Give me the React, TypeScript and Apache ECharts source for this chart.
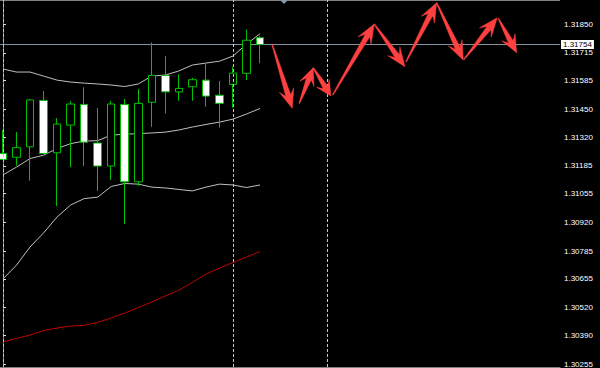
import React, { useEffect, useRef } from "react";
import * as echarts from "echarts";

// Price axis tick labels (right side)
const tickLabels = [
  "1.31850", "1.31715", "1.31585", "1.31450", "1.31320", "1.31185", "1.31055",
  "1.30920", "1.30785", "1.30655", "1.30520", "1.30390", "1.30255",
];

// Candles (bar index 0..19)
const candleOpen = [
  1.31243, 1.31225, 1.31274, 1.31492, 1.31246, 1.31376, 1.31473, 1.31292, 1.31184, 1.31473,
  1.31110, 1.31483, 1.31609, 1.31532, 1.31556, 1.31587, 1.31516, 1.31567, 1.31619, 1.31786,
];
const candleClose = [
  1.31215, 1.31270, 1.31494, 1.31243, 1.31381, 1.31475, 1.31296, 1.31184, 1.31475, 1.31110,
  1.31478, 1.31609, 1.31532, 1.31548, 1.31589, 1.31512, 1.31478, 1.31620, 1.31774, 1.31754,
];
const candleLow = [
  1.31212, 1.31186, 1.31115, 1.31242, 1.30996, 1.31179, 1.31184, 1.31067, 1.31118, 1.30912,
  1.31091, 1.31368, 1.31431, 1.31490, 1.31490, 1.31462, 1.31364, 1.31457, 1.31587, 1.31666,
];
const candleHigh = [
  1.31353, 1.31343, 1.31498, 1.31536, 1.31409, 1.31490, 1.31554, 1.31456, 1.31490, 1.31498,
  1.31545, 1.31764, 1.31700, 1.31614, 1.31598, 1.31668, 1.31583, 1.31650, 1.31825, 1.31795,
];

// Bollinger bands
const bbUpper = [
  1.31639, 1.31625, 1.31625, 1.31606, 1.31587, 1.31578, 1.31573, 1.31569, 1.31564, 1.31557,
  1.31569, 1.31606, 1.31611, 1.31630, 1.31658, 1.31667, 1.31676, 1.31700, 1.31756, 1.31805,
];
const bbMiddle = [
  1.31142, 1.31179, 1.31219, 1.31235, 1.31266, 1.31289, 1.31301, 1.31303, 1.31329, 1.31333,
  1.31336, 1.31339, 1.31343, 1.31353, 1.31367, 1.31379, 1.31390, 1.31404, 1.31428, 1.31454,
];
const bbLower = [
  1.30654, 1.30719, 1.30804, 1.30870, 1.30945, 1.31001, 1.31031, 1.31038, 1.31088, 1.31102,
  1.31099, 1.31085, 1.31081, 1.31074, 1.31067, 1.31085, 1.31099, 1.31095, 1.31083, 1.31095,
];

// Moving average (red)
const maRed = [
  1.30358, 1.30375, 1.30391, 1.30412, 1.30424, 1.30433, 1.30436, 1.30450, 1.30471, 1.30494,
  1.30520, 1.30546, 1.30574, 1.30602, 1.30637, 1.30677, 1.30705, 1.30731, 1.30757, 1.30783,
];

const currentPrice = 1.31754;

// Period separators (bar index)
const separators = [0, 17, 24];

// Drawn arrows: [fromIndex, fromPrice, toIndex, toPrice]
const arrows = [
  [19.9, 1.31754, 21.38, 1.31455],
  [21.9, 1.31478, 22.93, 1.31645],
  [22.93, 1.31645, 24.24, 1.31512],
  [24.37, 1.31517, 27.44, 1.3185],
  [27.44, 1.3185, 29.71, 1.3165],
  [29.79, 1.31673, 32.05, 1.3195],
  [32.05, 1.3195, 34.02, 1.31681],
  [34.07, 1.31684, 36.53, 1.3188],
  [36.61, 1.31877, 37.97, 1.31715],
];

// Visible window
const xMin = -0.22;
const xMax = 41.17;
const yMin = 1.30241;
const yMax = 1.31963;

export default function App() {
  const ref = useRef<HTMLDivElement>(null);

  useEffect(() => {
    if (!ref.current) return;
    const chart = echarts.init(ref.current, null, { renderer: "svg" });
    const tickValues = tickLabels.map(Number);
    const green = "#00c000";
    const bandColor = "#c0c0c0";

    const candleData = candleOpen.map((o, i) => [i, o, candleClose[i], candleLow[i], candleHigh[i]]);
    const toLine = (arr: number[]) => arr.map((v, i) => [i, v]);

    const renderArrow = (params: any, api: any) => {
      const p1 = api.coord([api.value(0), api.value(1)]);
      const p2 = api.coord([api.value(2), api.value(3)]);
      const dx = p2[0] - p1[0];
      const dy = p2[1] - p1[1];
      const len = Math.sqrt(dx * dx + dy * dy) || 1;
      const ux = dx / len;
      const uy = dy / len;
      const nx = -uy;
      const ny = ux;
      const headLen = Math.min(19, len * 0.45);
      const notch = headLen * 0.7;
      const headHalf = 7.5;
      const shaftHalf = 2.6;
      const tailHalf = 0.4;
      const bx = p2[0] - ux * headLen;
      const by = p2[1] - uy * headLen;
      const sx = p2[0] - ux * notch;
      const sy = p2[1] - uy * notch;
      const pts = [
        [p1[0] + nx * tailHalf, p1[1] + ny * tailHalf],
        [sx + nx * shaftHalf, sy + ny * shaftHalf],
        [bx + nx * headHalf, by + ny * headHalf],
        [p2[0], p2[1]],
        [bx - nx * headHalf, by - ny * headHalf],
        [sx - nx * shaftHalf, sy - ny * shaftHalf],
        [p1[0] - nx * tailHalf, p1[1] - ny * tailHalf],
      ];
      return {
        type: "polygon",
        shape: { points: pts },
        style: { fill: "#ff4040", stroke: "#ff4040", lineWidth: 0.5 },
      };
    };

    chart.setOption({
      animation: false,
      backgroundColor: "#000000",
      grid: { left: 0, right: 40, top: 0, bottom: 1, show: false },
      xAxis: {
        type: "value",
        min: xMin,
        max: xMax,
        splitLine: { show: false },
        axisLabel: { show: false },
        axisTick: { show: false },
        axisLine: { show: true, onZero: false, lineStyle: { color: "#808080", width: 1 } },
      },
      yAxis: {
        type: "value",
        position: "right",
        min: yMin,
        max: yMax,
        scale: true,
        splitLine: { show: false },
        axisLine: { show: true, lineStyle: { color: "#808080", width: 1 } },
        axisTick: {
          show: true,
          customValues: tickValues,
          length: 3,
          lineStyle: { color: "#e0e0e0" },
        },
        axisLabel: {
          customValues: tickValues,
          formatter: (v: number) => v.toFixed(5),
          color: "#ffffff",
          fontSize: 8,
          fontFamily: "Liberation Sans",
          margin: 4,
        },
      },
      series: [
        {
          type: "line",
          data: toLine(maRed),
          symbol: "none",
          lineStyle: { color: "#c00000", width: 1 },
          z: 1,
          markLine: {
            silent: true,
            symbol: ["none", "none"],
            label: { show: false },
            lineStyle: { color: "#c8c8c8", type: [3, 2], width: 1 },
            data: separators.map((s) => ({ xAxis: s })),
          },
        },
        {
          type: "line",
          data: toLine(bbUpper),
          symbol: "none",
          lineStyle: { color: bandColor, width: 1 },
          z: 1,
        },
        {
          type: "line",
          data: toLine(bbMiddle),
          symbol: "none",
          lineStyle: { color: bandColor, width: 1 },
          z: 1,
        },
        {
          type: "line",
          data: toLine(bbLower),
          symbol: "none",
          lineStyle: { color: bandColor, width: 1 },
          z: 1,
        },
        {
          type: "line",
          data: [
            [xMin, currentPrice],
            [xMax, currentPrice],
          ],
          symbol: "none",
          clip: false,
          lineStyle: { color: "#8a96a3", width: 1 },
          z: 2,
          endLabel: {
            show: true,
            distance: 1,
            formatter: () => currentPrice.toFixed(5),
            backgroundColor: "#ffffff",
            color: "#000000",
            fontSize: 8,
            fontFamily: "Liberation Sans",
            padding: [1, 2, 0, 2],
          },
        },
        {
          type: "candlestick",
          data: candleData,
          barWidth: 8,
          z: 3,
          itemStyle: {
            color: "#000000",
            color0: "#ffffff",
            borderColor: green,
            borderColor0: green,
            borderWidth: 1,
          },
        },
        {
          type: "custom",
          renderItem: renderArrow,
          data: arrows,
          encode: { x: [0, 2], y: [1, 3] },
          z: 5,
        },
      ],
      graphic: [
        {
          type: "line",
          shape: { x1: 0, y1: 0.5, x2: 560, y2: 0.5 },
          style: { stroke: "#808080", lineWidth: 1 },
          silent: true,
        },
        {
          type: "polygon",
          shape: { points: [[280, 0], [288, 0], [284, 4]] },
          style: { fill: "#8a96a3" },
          silent: true,
        },
      ],
    });
    return () => chart.dispose();
  }, []);

  return (
    <div
      ref={ref}
      style={{ position: "fixed", left: 0, top: 0, width: 600, height: 368, background: "#000" }}
    />
  );
}
